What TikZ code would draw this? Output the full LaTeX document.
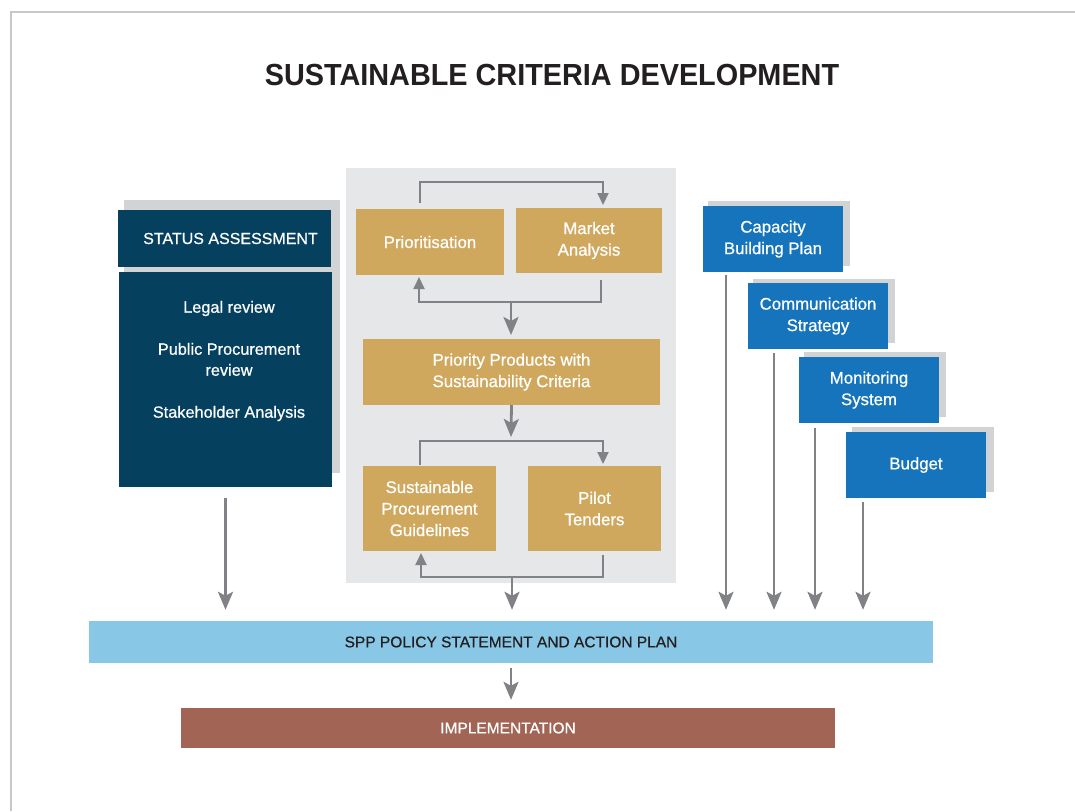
\documentclass[tikz,border=0pt]{standalone}
\usepackage{fontspec}
\setmainfont{Liberation Sans}
\newfontfamily\medfont[FakeBold=0.7]{Liberation Sans}
\usetikzlibrary{arrows.meta,calc}
\definecolor{navy}{HTML}{05405F}
\definecolor{gold}{HTML}{CFA85E}
\definecolor{bluebox}{HTML}{1574BB}
\definecolor{shadowc}{HTML}{D1D3D4}
\definecolor{panelc}{HTML}{E6E7E8}
\definecolor{arrc}{HTML}{808285}
\definecolor{sppc}{HTML}{88C7E6}
\definecolor{implc}{HTML}{A26455}
\definecolor{framec}{HTML}{C8C8C8}
\definecolor{titlec}{HTML}{231F20}
\tikzset{
  boxbase/.style={inner sep=0pt, outer sep=0pt, align=center, text=white,
    font=\medfont\fontsize{16.8}{21.5}\selectfont},
  navybox/.style={boxbase, fill=navy},
  goldbox/.style={boxbase, fill=gold},
  bluebx/.style={boxbase, fill=bluebox},
  arr/.style={draw=arrc, line width=2.8pt, -{Stealth[width=15pt,length=18pt,inset=4pt]}},
  looparr/.style={draw=arrc, line width=2pt, -{Triangle[width=11pt,length=12pt]}},
}
\begin{document}
\begin{tikzpicture}[x=1pt,y=-1pt]
\useasboundingbox (0,0) rectangle (1075,811);
\fill[white] (0,0) rectangle (1075,811);
\draw[framec, line width=1.5pt] (11,811) -- (11,12) -- (1075,12);

\node[text=titlec, font=\fontsize{30.5}{36}\selectfont\bfseries] (title) at (552,75)
  {\scalebox{0.945}[1]{SUSTAINABLE CRITERIA DEVELOPMENT}};

% panel and shadows
\fill[panelc] (346,168) rectangle (676,583);
\fill[shadowc] (124,200) rectangle (340,473);
\fill[shadowc] (708,201) rectangle (850,266);
\fill[shadowc] (753,279) rectangle (895,343);
\fill[shadowc] (804,352) rectangle (946,417);
\fill[shadowc] (852,427) rectangle (994,492);

% status assessment
\node[navybox, font=\medfont\fontsize{16}{21}\selectfont, minimum width=213pt, minimum height=57pt] (status) at (224.5,238.5) {\hspace*{12pt}STATUS ASSESSMENT};
\node[navybox, minimum width=213pt, minimum height=215pt] (body) at (225.5,379.5) {};
\node[text=white, align=center, font=\medfont\fontsize{16.3}{21}\selectfont] (bodytxt) at (229,361)
  {Legal review\\[21pt]Public Procurement\\review\\[21pt]Stakeholder Analysis};

% gold boxes
\node[goldbox, minimum width=148pt, minimum height=66pt] (prio) at (430,242) {Prioritisation};
\node[goldbox, minimum width=146pt, minimum height=65pt] (mkt) at (589,240.5) {Market\\Analysis};
\node[goldbox, minimum width=297pt, minimum height=66pt] (prod) at (511.5,372) {Priority Products with\\Sustainability Criteria};
\node[goldbox, minimum width=133pt, minimum height=85pt] (guide) at (429.5,508.5) {Sustainable\\Procurement\\Guidelines};
\node[goldbox, minimum width=133pt, minimum height=85pt] (pilot) at (594.5,508.5) {Pilot\\Tenders};

% blue boxes
\node[bluebx, minimum width=140pt, minimum height=66pt] (cap) at (773,239) {Capacity\\Building Plan};
\node[bluebx, minimum width=140pt, minimum height=66pt] (comm) at (818,316) {Communication\\Strategy};
\node[bluebx, minimum width=140pt, minimum height=66pt] (mon) at (869,390) {Monitoring\\System};
\node[bluebx, minimum width=140pt, minimum height=66pt] (bud) at (916,465) {Budget};

% bars
\node[fill=sppc, inner sep=0pt, minimum width=844pt, minimum height=42pt, text=titlec,
  font=\medfont\fontsize{15.5}{18}\selectfont] (spp) at (511,642) {SPP POLICY STATEMENT AND ACTION PLAN};
\node[fill=implc, inner sep=0pt, minimum width=654pt, minimum height=40pt, text=white,
  font=\medfont\fontsize{15.5}{18}\selectfont] (impl) at (508,728) {IMPLEMENTATION};

% loops in panel
\draw[looparr] ([xshift=-10pt,yshift=6pt]prio.north) -- ++(0,-21) -| ([xshift=14pt,yshift=3pt]mkt.north);
\draw[looparr] ([xshift=12pt,yshift=-7pt]mkt.south) -- ++(0,22) -| ([xshift=-11pt,yshift=-2pt]prio.south);
\coordinate (j1) at (511,301);
\draw[arr] (j1) -- ([yshift=4pt]j1 |- prod.north);
\coordinate (j2) at (511,441);
\draw[arr] (prod.south) -- ([yshift=4pt]j2);
\draw[looparr] ([xshift=-9.5pt,yshift=1pt]guide.north) -- ++(0,-24) -| ([xshift=8.5pt,yshift=2pt]pilot.north);
\draw[looparr] ([xshift=8.5pt,yshift=-4pt]pilot.south) -- ++(0,22) -| ([xshift=-8.5pt,yshift=-2pt]guide.south);
\coordinate (j3) at (512,576);
\draw[arr] (j3) -- ([yshift=11pt]j3 |- spp.north);

% to SPP
\draw[arr] ([yshift=-11pt]body.south) -- ([yshift=11pt]body.south |- spp.north);
\draw[arr] ([xshift=-47pt,yshift=-3pt]cap.south) -- ([xshift=-47pt,yshift=11pt]cap.south |- spp.north);
\draw[arr] ([xshift=-44pt,yshift=-4pt]comm.south) -- ([xshift=-44pt,yshift=11pt]comm.south |- spp.north);
\draw[arr] ([xshift=-54pt,yshift=-5pt]mon.south) -- ([xshift=-54pt,yshift=11pt]mon.south |- spp.north);
\draw[arr] ([xshift=-53pt,yshift=-4pt]bud.south) -- ([xshift=-53pt,yshift=11pt]bud.south |- spp.north);

% to implementation
\draw[arr] ([yshift=-5pt]spp.south) -- ([yshift=8pt]spp.south |- impl.north);
\end{tikzpicture}
\end{document}
